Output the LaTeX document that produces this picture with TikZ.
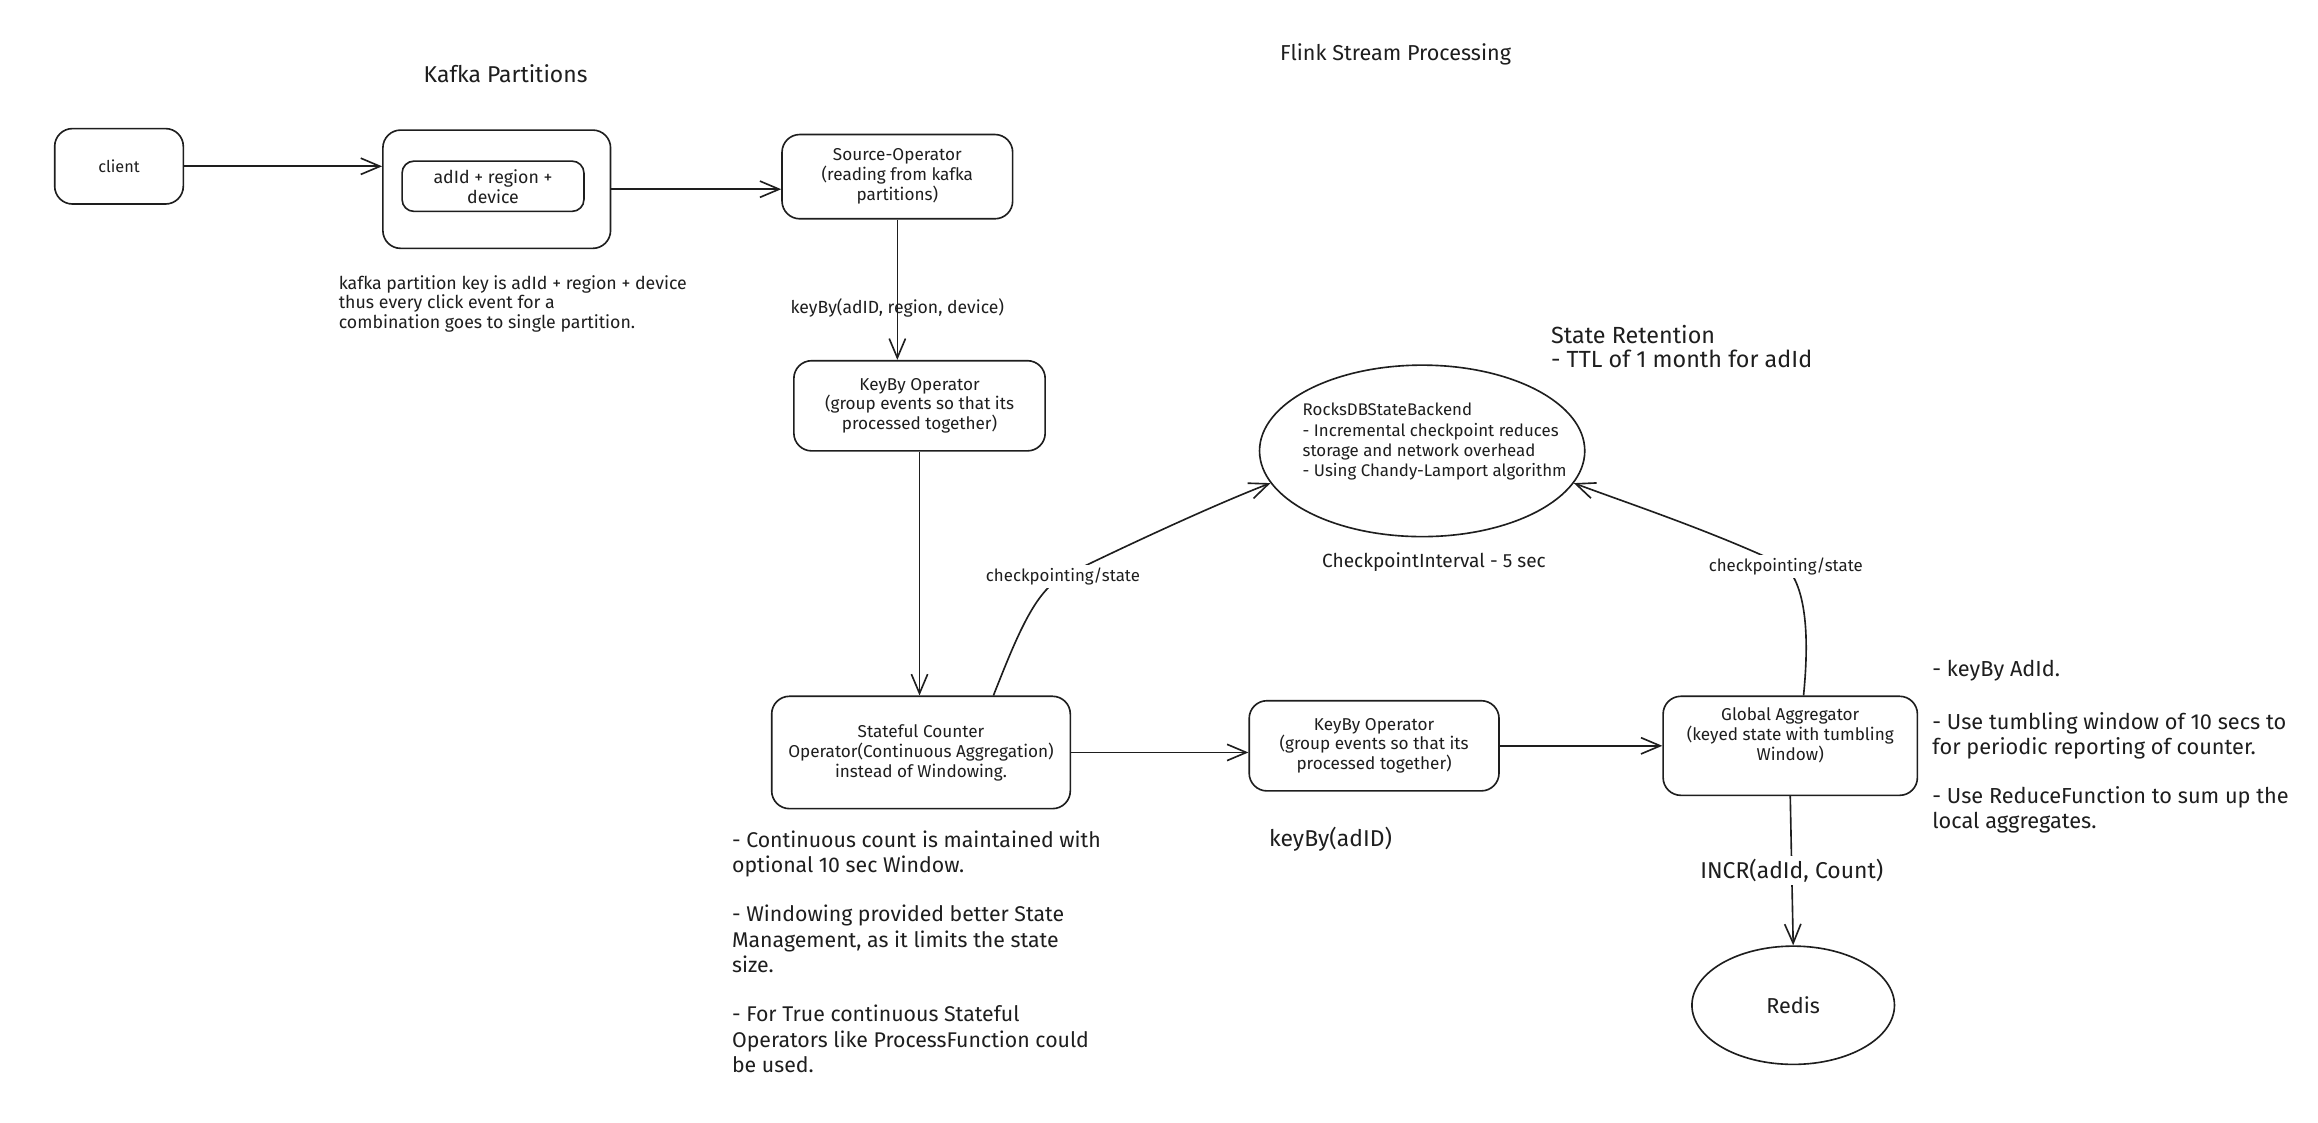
\documentclass[tikz,border=0pt]{standalone}
\usepackage{fontspec}
\setmainfont{Fira Sans}
\usetikzlibrary{arrows.meta,shapes.geometric,calc}
\definecolor{ink}{HTML}{1E1E1E}
\newcommand{\myfs}[2]{\fontsize{#1}{#2}\selectfont}
\begin{document}
\begin{tikzpicture}[x=1pt,y=-1pt,
  box/.style={draw=ink, line width=1.1pt, rounded corners=12pt, align=center, inner sep=0pt, font=\myfs{11.6}{13.5}, text=ink},
  ell/.style={draw=ink, line width=1.1pt, ellipse, inner sep=0pt, text=ink},
  arr/.style={draw=ink, line width=1.1pt, -{Straight Barb[length=13pt,width=11pt,line width=1.1pt]}},
  lbl/.style={font=\myfs{11.4}{13.5}, text=ink, inner sep=2pt},
  biglbl/.style={font=\myfs{15.5}{17}, text=ink, inner sep=2pt},
  note/.style={align=left, anchor=base west, inner sep=0pt, text=ink},
  title/.style={text=ink, inner sep=0pt}]
\fill[white] (0,0) rectangle (1568,759);
\useasboundingbox (0,0) rectangle (1568,759);

% titles
\node[title, font=\myfs{15.5}{17}] (tkafka) at (342,50) {Kafka Partitions};
\node[title, font=\myfs{14.6}{17}] (tflink) at (944,37) {Flink Stream Processing};

% boxes
\node[box, font=\myfs{11}{13.5}, minimum width=87pt, minimum height=51pt] (client) at (80.5,112.5) {client};
\node[box, minimum width=154pt, minimum height=80pt] (kafka) at (336,128) {};
\node[box, font=\myfs{12}{13.5}, rounded corners=8pt, minimum width=123pt, minimum height=34pt] (kinner) at (333.5,126) {adId + region +\\device};
\node[box, minimum width=156pt, minimum height=57pt] (source) at (607,119.5) {Source-Operator\\(reading from kafka\\partitions)};
\node[box, minimum width=170pt, minimum height=61pt] (keyby1) at (622,274.5) {KeyBy Operator\\(group events so that its\\processed together)};
\node[box, minimum width=202pt, minimum height=76pt] (stateful) at (623,509) {Stateful Counter\\Operator(Continuous Aggregation)\\instead of Windowing.};
\node[box, minimum width=169pt, minimum height=61pt] (keyby2) at (929.5,504.5) {KeyBy Operator\\(group events so that its\\processed together)};
\node[box, minimum width=172pt, minimum height=67pt] (global) at (1211,504.5) {};
\node[text=ink, font=\myfs{11.6}{13.5}, align=center, inner sep=0pt] (globaltxt) at (1211,497.5) {Global Aggregator\\(keyed state with tumbling\\Window)};

% ellipses
\node[ell, minimum width=220pt, minimum height=116pt] (rocks) at (962,305) {};
\node[note, font=\myfs{11.4}{13.7}] (rockstxt) at (881,322.5) {RocksDBStateBackend\\- Incremental checkpoint reduces\\storage and network overhead\\- Using Chandy-Lamport algorithm};
\node[ell, minimum width=137pt, minimum height=80pt, font=\myfs{14.6}{16}] (redis) at (1213,680) {Redis};

% notes
\node[note, font=\myfs{12}{13.5}] (kafkanote) at (229,222.5) {kafka partition key is adId + region + device\\thus every click event for a\\combination goes to single partition.};
\node[note, font=\myfs{15.8}{16}] (retention) at (1049,248.5) {State Retention\\- TTL of 1 month for adId};
\node[lbl, font=\myfs{12.9}{14}] (cpint) at (970,380) {CheckpointInterval - 5 sec};
\node[biglbl] (kbad) at (900,568) {keyBy(adID)};
\node[note, font=\myfs{14.4}{17.2}] (leftnote) at (495,725.5) {- Continuous count is maintained with\\optional 10 sec Window.\\[16pt]- Windowing provided better State\\Management, as it limits the state\\size.\\[16pt]- For True continuous Stateful\\Operators like ProcessFunction could\\be used.};
\node[note, font=\myfs{14.7}{17}] (rightnote) at (1307,560.5) {- keyBy AdId.\\[19pt]- Use tumbling window of 10 secs to\\for periodic reporting of counter.\\[16pt]- Use ReduceFunction to sum up the\\local aggregates.};

% connectors
\draw[arr] (client.east) -- (client.east -| kafka.west);
\draw[arr] (kafka.east) -- (kafka.east -| source.west);
\draw[arr] (source.south) -- node[lbl, font=\myfs{11.9}{13.5}, pos=0.63] {keyBy(adID, region, device)} (source.south |- keyby1.north);
\draw[arr] (keyby1.south) -- (keyby1.south |- stateful.north);
\draw[arr] (stateful.east) -- (stateful.east -| keyby2.west);
\draw[arr] (keyby2.east) -- (keyby2.east -| global.west);
\draw[arr] (global.south) -- node[biglbl, fill=white, pos=0.5] {INCR(adId, Count)} (redis.north);
\draw[arr] ([xshift=49pt]stateful.north) .. controls (688,430) and (700,400) .. (719,390) node[lbl, fill=white] {checkpointing/state} .. controls (760,370) and (820,342) .. (rocks.192);
\draw[arr] ([xshift=9pt]global.north) .. controls (1223,440) and (1224,400) .. (1208,383) node[lbl, fill=white] {checkpointing/state} .. controls (1160,360) and (1100,340) .. (rocks.348);
\end{tikzpicture}
\end{document}
